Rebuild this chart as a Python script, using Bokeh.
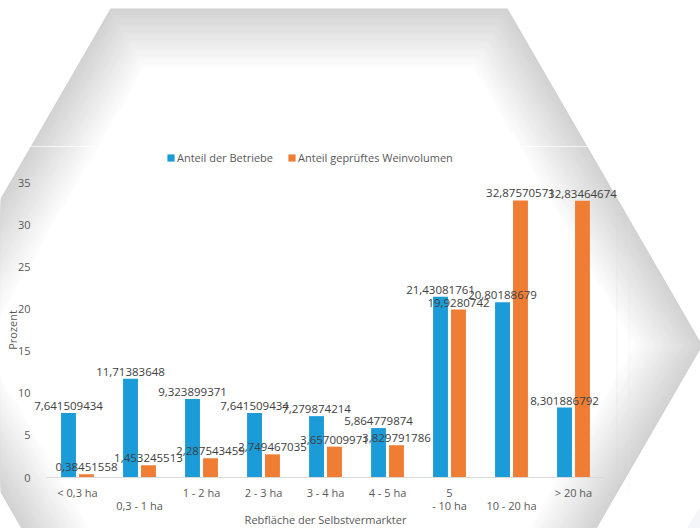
from bokeh.plotting import figure
from bokeh.models import (ColumnDataSource, Range1d, Legend, LegendItem, LabelSet,
                          PolyAnnotation, LinearAxis, FixedTicker)
from bokeh.core.properties import value
from bokeh.transform import dodge
from bokeh.embed import file_html
from bokeh.resources import INLINE

# ---------------- data ----------------
categories = ["< 0,3 ha", "0,3 - 1 ha", "1 - 2 ha", "2 - 3 ha", "3 - 4 ha",
              "4 - 5 ha", "5 - 10 ha", "10 - 20 ha", "> 20 ha"]
anteil_betriebe = [7.641509434, 11.71383648, 9.323899371, 7.641509434, 7.279874214,
                   5.864779874, 21.43081761, 20.80188679, 8.301886792]
anteil_weinvolumen = [0.38451558, 1.453245513, 2.287543459, 2.749467035, 3.657009971,
                      3.829791786, 19.9280742, 32.87570571, 32.83464674]
series_names = ["Anteil der Betriebe", "Anteil geprüftes Weinvolumen"]
y_ticks = [0, 5, 10, 15, 20, 25, 30, 35]
# how the category labels are split over the two label rows (as in the reference)
label_row1 = ["< 0,3 ha", "", "1 - 2 ha", "2 - 3 ha", "3 - 4 ha", "4 - 5 ha", "5", "", "> 20 ha"]
label_row2 = ["", "0,3 - 1 ha", "", "", "", "", "- 10 ha", "10 - 20 ha", ""]
x_title = "Rebfläche der Selbstvermarkter"
y_title = "Prozent"

# ---------------- style / layout constants ----------------
BLUE = "#1B9BD7"
ORANGE = "#EF7D34"
FONT = "Open Sans"
FS = "11px"
TXT = "#595959"
W, H = 700, 528
PX_X0, PX_STEP = 77.0, 62.0       # pixel x of first category centre, category spacing
PX_Y0, PX_Y35 = 477.0, 182.0      # pixel y of value 0 and value 35

idx = list(range(len(categories)))
ymax = y_ticks[-1]
ppu = (PX_Y0 - PX_Y35) / ymax
x_range = Range1d(-PX_X0 / PX_STEP, (W - PX_X0) / PX_STEP)
y_range = Range1d(-(H - PX_Y0) / ppu, PX_Y0 / ppu)

def fmt(v):
    return repr(v).replace(".", ",")

src = ColumnDataSource(dict(
    idx=idx, b=anteil_betriebe, w=anteil_weinvolumen,
    bl=[fmt(v) for v in anteil_betriebe], wl=[fmt(v) for v in anteil_weinvolumen]))

p = figure(width=W, height=H, x_range=x_range, y_range=y_range,
           output_backend="svg", toolbar_location=None,
           x_axis_location=None, y_axis_location=None,
           min_border_left=0, min_border_right=0, min_border_top=0, min_border_bottom=0)
p.background_fill_color = "white"
p.border_fill_color = "white"
p.outline_line_color = None
p.xgrid.grid_line_color = None
p.ygrid.grid_line_color = None

def screen_poly(xs, ys, **kw):
    p.add_layout(PolyAnnotation(xs=list(xs), ys=[H - y for y in ys],
                                xs_units="screen", ys_units="screen",
                                level="image", **kw))

# ---------------- background hexagon with soft edge shading ----------------
hx = [110, 507, 702, 507, 110, -85]
hy = [8, 8, 345, 682, 682, 345]
steps = 31
for k in range(steps):
    d = k * 2.0
    t = k / (steps - 1)
    g = int(round(210 + (255 - 210) * t))
    col = "#%02x%02x%02x" % (g, g, g)
    a = 0.5774 * d
    tip = 1.1547 * d
    vx = [hx[0] + a, hx[1] - a, hx[2] - tip, hx[3] - a, hx[4] + a, hx[5] + tip]
    vy = [hy[0] + d, hy[1] + d, hy[2], hy[3] - d, hy[4] - d, hy[5]]
    screen_poly(vx, vy, fill_color=col, fill_alpha=1.0, line_color=None)

# faint seams of the chart area and the corner of a second shape
screen_poly([0, 700], [146, 146], fill_color=None, line_color="white", line_alpha=0.7, line_width=1)
screen_poly([616.5, 616.5], [196, 490], fill_color=None, line_color="#d4d4d4", line_width=1)
screen_poly([628.5, 628.5], [216, 490], fill_color=None, line_color="#e2e2e2", line_width=1)
screen_poly([700, 700, 686], [506, 528, 528], fill_color="#e6e9f1", line_color=None)

# ---------------- bars ----------------
off = 0.145
r1 = p.vbar(x=dodge("idx", -off), top="b", width=0.24, source=src,
            fill_color=BLUE, line_color=None)
r2 = p.vbar(x=dodge("idx", off), top="w", width=0.24, source=src,
            fill_color=ORANGE, line_color=None)

for col, fld, o in (("bl", "b", -off), ("wl", "w", off)):
    p.add_layout(LabelSet(x=dodge("idx", o), y=fld, text=col, source=src,
                          text_align="center", text_baseline="bottom", y_offset=3,
                          text_font=value(FONT), text_font_size="11.5px",
                          text_color="#404040"))

# ---------------- axes ----------------
xbounds = (idx[0] - 0.5, idx[-1] + 0.5)

def x_axis(labels, standoff, line=True, title=None):
    ax = LinearAxis(ticker=FixedTicker(ticks=idx), fixed_location=0, bounds=xbounds)
    ax.major_label_overrides = {i: s for i, s in zip(idx, labels)}
    ax.axis_line_color = "#D9D9D9" if line else None
    ax.major_tick_line_color = None
    ax.minor_tick_line_color = None
    ax.major_label_text_font = FONT
    ax.major_label_text_font_size = FS
    ax.major_label_text_color = TXT
    ax.major_label_standoff = standoff
    if title:
        ax.axis_label = title
        ax.axis_label_text_font = FONT
        ax.axis_label_text_font_size = FS
        ax.axis_label_text_font_style = "normal"
        ax.axis_label_text_color = TXT
        ax.axis_label_standoff = -4
    return ax

p.add_layout(x_axis(label_row1, 1), "below")
p.add_layout(x_axis(label_row2, 14, line=False, title=x_title), "below")

ya = LinearAxis(ticker=FixedTicker(ticks=y_ticks), fixed_location=xbounds[0],
                bounds=(0, ymax))
ya.axis_line_color = None
ya.major_tick_line_color = None
ya.minor_tick_line_color = None
ya.major_label_text_font = FONT
ya.major_label_text_font_size = FS
ya.major_label_text_color = TXT
ya.major_label_standoff = 10
ya.axis_label = y_title
ya.axis_label_text_font = FONT
ya.axis_label_text_font_size = FS
ya.axis_label_text_font_style = "normal"
ya.axis_label_text_color = TXT
ya.axis_label_standoff = -5
p.add_layout(ya, "left")

# ---------------- legend ----------------
legend = Legend(items=[LegendItem(label=series_names[0], renderers=[r1]),
                       LegendItem(label=series_names[1], renderers=[r2])],
                orientation="horizontal", location=(166, H - 165),
                glyph_width=9, glyph_height=9, label_standoff=2, spacing=14,
                padding=0, margin=0, border_line_color=None, background_fill_alpha=0,
                label_text_font=FONT, label_text_font_size=FS,
                label_text_color=TXT, label_height=12)
p.add_layout(legend)

open("out.html", "w").write(file_html(p, INLINE))
